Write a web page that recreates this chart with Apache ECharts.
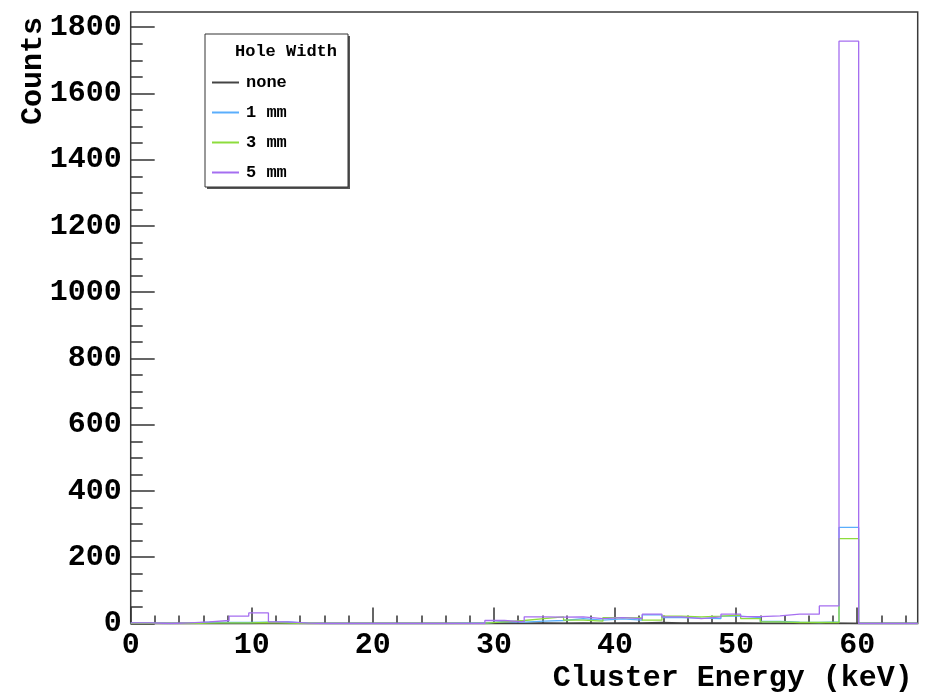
<!DOCTYPE html>
<html><head><meta charset="utf-8">
<script src="https://cdn.jsdelivr.net/npm/echarts@6/dist/echarts.min.js"></script>
<style>html,body{margin:0;padding:0;background:#fff}#c{width:925px;height:694px}</style>
</head><body><div id="c"></div>
<script>
// Histogram binning: 40 bins from 0 to 65 keV
const binLow = 0;
const binHigh = 65;
const nBins = 40;

const seriesNames = ['none', '1 mm', '3 mm', '5 mm'];
const seriesColors = ['#444444', '#5aaefc', '#8ddc3c', '#a56ef0'];

// Counts per bin (40 bins)
const countsNone = [0,0,0,0,0,0,1,0,0,0, 0,0,0,0,0,0,0,0,2,1, 2,1,2,1,2,2,3,2,2,2, 2,1,1,1,1,1,0,0,0,0];
const counts1mm  = [1,0,1,4,3,3,4,5,1,0, 0,0,0,0,0,0,1,1,6,4, 7,9,15,10,14,10,26,18,16,15, 22,18,6,4,3,5,290,0,0,0];
const counts3mm  = [0,0,0,1,2,2,3,1,0,0, 0,0,0,0,0,0,0,1,5,9, 15,20,10,7,18,17,10,22,20,22, 25,15,5,3,3,3,256,0,0,0];
const counts5mm  = [2,0,2,5,9,22,32,5,1,0, 0,0,0,0,0,0,0,0,9,5, 20,19,20,15,18,15,28,20,15,20, 28,21,23,28,28,53,1758,0,0,0];

const xTicks = [0, 10, 20, 30, 40, 50, 60];
const yTicks = [0, 200, 400, 600, 800, 1000, 1200, 1400, 1600, 1800];
const yMax = 1846;

const allCounts = [countsNone, counts1mm, counts3mm, counts5mm];
const binW = (binHigh - binLow) / nBins;
function steps(vals) {
  const pts = vals.map((v, k) => [binLow + k * binW, v]);
  pts.push([binHigh, vals[vals.length - 1]]);
  return pts;
}

const FONT = '"Liberation Mono", "DejaVu Sans Mono", monospace';
const chart = echarts.init(document.getElementById('c'), null, {renderer: 'canvas'});
chart.setOption({
  animation: false,
  backgroundColor: '#ffffff',
  grid: {left: 130.7, right: 7.3, top: 12, bottom: 70.5, show: true, borderColor: '#3a3a3a', borderWidth: 1.5, backgroundColor: 'transparent', containLabel: false},
  xAxis: {
    type: 'value', min: binLow, max: binHigh, interval: 10,
    axisLine: {show: false},
    axisTick: {show: true, inside: true, length: 16, customValues: xTicks, lineStyle: {color: '#333', width: 1.5}},
    minorTick: {show: true, splitNumber: 5, length: 8, lineStyle: {color: '#333', width: 1.5}},
    axisLabel: {customValues: xTicks, formatter: v => String(v), margin: 7, fontFamily: FONT, fontWeight: 'bold', fontSize: 30, color: '#000'},
    splitLine: {show: false},
    name: 'Cluster Energy (keV)', nameLocation: 'end', nameGap: -5, nameMoveOverlap: false,
    nameTextStyle: {align: 'right', verticalAlign: 'top', padding: [40, 0, 0, 0], fontFamily: FONT, fontWeight: 'bold', fontSize: 30, color: '#000'}
  },
  yAxis: {
    type: 'value', min: 0, max: yMax, interval: 200,
    axisLine: {show: false},
    axisTick: {show: true, inside: true, length: 24, customValues: yTicks, lineStyle: {color: '#333', width: 1.5}},
    minorTick: {show: true, splitNumber: 4, length: 12, lineStyle: {color: '#333', width: 1.5}},
    axisLabel: {customValues: yTicks, formatter: v => String(v), margin: 9, fontFamily: FONT, fontWeight: 'bold', fontSize: 30, color: '#000'},
    splitLine: {show: false},
    name: 'Counts', nameLocation: 'end', nameGap: -5, nameRotate: 90, nameMoveOverlap: false,
    nameTextStyle: {align: 'right', verticalAlign: 'bottom', padding: [0, 0, 82, 0], fontFamily: FONT, fontWeight: 'bold', fontSize: 30, color: '#000'}
  },
  legend: {
    data: seriesNames.map(n => ({name: n, icon: 'rect'})), orient: 'vertical', left: 212, top: 74, padding: 0,
    itemWidth: 27, itemHeight: 2, itemGap: 13,
    textStyle: {fontFamily: FONT, fontWeight: 'bold', fontSize: 17, lineHeight: 17, color: '#000', padding: [0, 0, 0, 2]},
    z: 10
  },
  graphic: [
    {type: 'rect', z: 8, shape: {x: 207, y: 36, width: 143, height: 153}, style: {fill: '#555'}},
    {type: 'rect', z: 9, shape: {x: 205, y: 34, width: 143, height: 153}, style: {fill: '#fff', stroke: '#333', lineWidth: 1}},
    {type: 'text', z: 10, x: 286, y: 52, style: {text: 'Hole Width', align: 'center', verticalAlign: 'middle', font: 'bold 17px ' + FONT, fill: '#000'}}
  ],
  series: allCounts.map((vals, i) => ({
    name: seriesNames[i], type: 'line', step: 'end', symbol: 'none',
    data: steps(vals), color: seriesColors[i],
    lineStyle: {width: 1.3, color: seriesColors[i]}, z: 2 + i
  }))
});
</script></body></html>
